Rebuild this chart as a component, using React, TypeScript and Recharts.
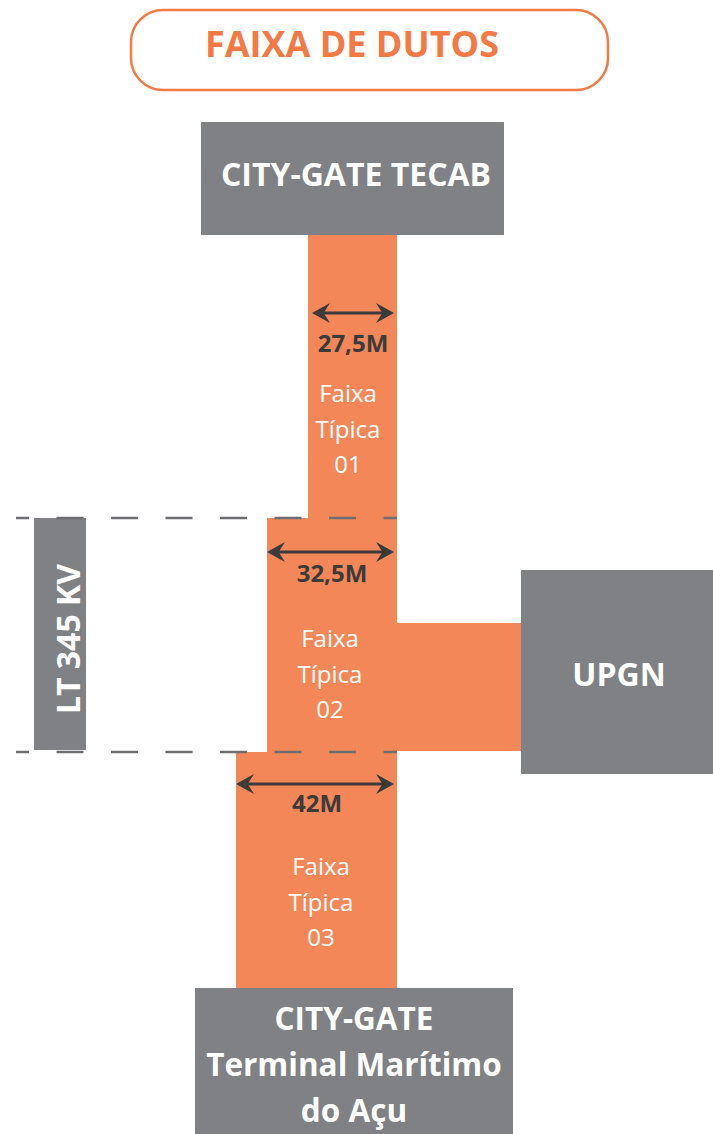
import React from "react";
import { ComposedChart, XAxis, YAxis, ReferenceArea, ReferenceLine, ReferenceDot } from "recharts";

// diagram units = one unit per pixel of the 713 x 1134 canvas (y grows downward)
const W = 713;
const H = 1134;

const TITLE = "FAIXA DE DUTOS";
const LINE_NAME = "LT 345 KV";

// pipeline strips (top to bottom)
const STRIP_NAMES = [["Faixa", "Típica", "01"], ["Faixa", "Típica", "02"], ["Faixa", "Típica", "03"]];
const STRIP_WIDTHS = ["27,5M", "32,5M", "42M"];
const STRIP_LEFT = [308, 267, 236];
const STRIP_RIGHT = [397, 397, 397];
const STRIP_TOP = [235, 518, 752];
const STRIP_BOTTOM = [518, 752, 988];
const ARROW_Y = [313, 552, 784];
const WIDTH_LABEL_AT = [[353, 352], [332, 582], [317, 812]];
const NAME_LABEL_AT = [[348, 402], [330, 647], [321, 875]];

// terminals
const NODE_NAMES = [["CITY-GATE TECAB"], ["UPGN"], ["CITY-GATE", "Terminal Marítimo", "do Açu"]];
const NODE_BOX = [[201, 504, 122, 235], [521, 713, 570, 774], [195, 513, 988, 1134]];
const NODE_LABEL_AT = [[356, 186], [619, 686], [354, 1030]];

// branch to UPGN, power line corridor
const BRANCH_BOX = [397, 521, 623, 751];
const LINE_BOX = [34, 86, 518, 750];
const CORRIDOR_Y = [518, 752];
const CORRIDOR_X = [16, 397];

const ORANGE = "#F48758";
const TITLE_ORANGE = "#F47A45";
const GRAY = "#808184";
const DARK = "#3B3B3C";
const DASH = "#6D6E71";
const FONT = "'Open Sans', sans-serif";

// eslint-disable-next-line @typescript-eslint/no-explicit-any
const Arrow = (p: any) => {
  const { x1, y1, x2 } = p;
  const L = 18;
  const h = 10;
  return (
    <g>
      <line x1={x1 + 8} y1={y1} x2={x2 - 8} y2={y1} stroke={DARK} strokeWidth={3} />
      <polygon points={`${x1},${y1} ${x1 + L},${y1 - h} ${x1 + L * 0.65},${y1} ${x1 + L},${y1 + h}`} fill={DARK} />
      <polygon points={`${x2},${y1} ${x2 - L},${y1 - h} ${x2 - L * 0.65},${y1} ${x2 - L},${y1 + h}`} fill={DARK} />
    </g>
  );
};

const lines = (
  rows: string[],
  size: number,
  weight: number | string,
  fill: string,
  gap: number,
  extra: Record<string, unknown> = {}
) =>
  // eslint-disable-next-line @typescript-eslint/no-explicit-any
  (p: any) => (
    <text x={p.cx} y={p.cy} textAnchor="middle" fontFamily={FONT} fontSize={size} fontWeight={weight} fill={fill} {...extra}>
      {rows.map((r, i) => (
        <tspan key={i} x={p.cx} dy={i === 0 ? 0 : gap}>
          {r}
        </tspan>
      ))}
    </text>
  );

export default function App() {
  return (
    <div style={{ position: "absolute", left: 0, top: 0, width: W, height: H, background: "#fff" }}>
      <ComposedChart width={W} height={H} data={[]} margin={{ top: 0, right: 0, bottom: 0, left: 0 }}>
        <XAxis type="number" dataKey="x" domain={[0, W]} hide allowDataOverflow />
        <YAxis type="number" dataKey="y" domain={[0, H]} reversed hide allowDataOverflow />

        {/* title pill */}
        <ReferenceArea
          x1={131}
          x2={608}
          y1={10}
          y2={90}
          // eslint-disable-next-line @typescript-eslint/no-explicit-any
          shape={(p: any) => (
            <rect x={p.x} y={p.y} width={p.width} height={p.height} rx={32} fill="#fff" stroke={TITLE_ORANGE} strokeWidth={2.5} />
          )}
        />

        {/* strips */}
        {STRIP_NAMES.map((_, i) => (
          <ReferenceArea
            key={`s${i}`}
            x1={STRIP_LEFT[i]}
            x2={STRIP_RIGHT[i]}
            y1={STRIP_TOP[i]}
            y2={STRIP_BOTTOM[i]}
            fill={ORANGE}
            fillOpacity={1}
            stroke="none"
          />
        ))}
        <ReferenceArea x1={BRANCH_BOX[0]} x2={BRANCH_BOX[1]} y1={BRANCH_BOX[2]} y2={BRANCH_BOX[3]} fill={ORANGE} fillOpacity={1} stroke="none" />

        {/* terminals */}
        {NODE_BOX.map((b, i) => (
          <ReferenceArea key={`n${i}`} x1={b[0]} x2={b[1]} y1={b[2]} y2={b[3]} fill={GRAY} fillOpacity={1} stroke="none" />
        ))}
        <ReferenceArea x1={LINE_BOX[0]} x2={LINE_BOX[1]} y1={LINE_BOX[2]} y2={LINE_BOX[3]} fill={GRAY} fillOpacity={1} stroke="none" />

        {/* corridor limits */}
        {CORRIDOR_Y.map((y, i) => (
          <ReferenceLine
            key={`d${i}`}
            segment={[
              { x: CORRIDOR_X[0], y },
              { x: CORRIDOR_X[1], y },
            ]}
            stroke={DASH}
            strokeWidth={2.5}
            strokeDasharray="27 27.5"
            strokeDashoffset={14}
          />
        ))}

        {/* width arrows */}
        {ARROW_Y.map((y, i) => (
          <ReferenceLine
            key={`a${i}`}
            segment={[
              { x: STRIP_LEFT[i] + (i === 0 ? 4 : 0), y },
              { x: STRIP_RIGHT[i] - 3, y },
            ]}
            shape={Arrow}
          />
        ))}

        {/* texts */}
        <ReferenceDot x={352} y={57} r={0} shape={lines([TITLE], 36, 700, TITLE_ORANGE, 0)} />
        {NODE_NAMES.map((n, i) => (
          <ReferenceDot
            key={`nt${i}`}
            x={NODE_LABEL_AT[i][0]}
            y={NODE_LABEL_AT[i][1]}
            r={0}
            shape={lines(n, i === 2 ? 31.5 : 32, 700, "#fff", 46)}
          />
        ))}
        {STRIP_WIDTHS.map((w, i) => (
          <ReferenceDot key={`wt${i}`} x={WIDTH_LABEL_AT[i][0]} y={WIDTH_LABEL_AT[i][1]} r={0} shape={lines([w], 24, 700, DARK, 0)} />
        ))}
        {STRIP_NAMES.map((n, i) => (
          <ReferenceDot key={`st${i}`} x={NAME_LABEL_AT[i][0]} y={NAME_LABEL_AT[i][1]} r={0} shape={lines(n, 24, 400, "#fff", 35.5)} />
        ))}
        <ReferenceDot
          x={80}
          y={639}
          r={0}
          shape={(p: { cx: number; cy: number }) =>
            lines([LINE_NAME], 32, 700, "#fff", 0, { transform: `rotate(-90 ${p.cx} ${p.cy})` })(p)
          }
        />
      </ComposedChart>
    </div>
  );
}
